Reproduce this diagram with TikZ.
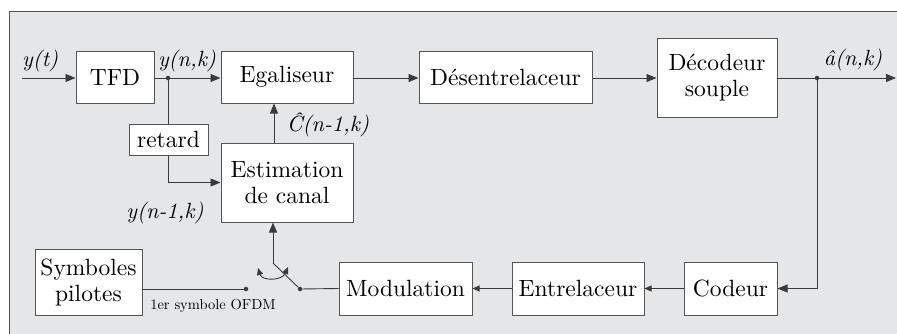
\documentclass[tikz,border=0pt]{standalone}
\usepackage{fontspec}
\setmainfont{lmroman10-regular.otf}[ItalicFont=lmroman10-italic.otf, BoldFont=lmroman10-bold.otf]
\usetikzlibrary{arrows.meta}
\definecolor{bggray}{HTML}{E5E6E8}
\definecolor{linegray}{HTML}{3A3A3A}
\definecolor{edgegray}{HTML}{555555}
\tikzset{
  blockbox/.style={draw=edgegray, line width=1pt, fill=white, inner sep=0pt,
    align=center, font=\fontsize{23.5}{26}\selectfont},
  wire/.style={draw=linegray, line width=0.9pt},
  arr/.style={wire, -{Triangle[length=10pt,width=8pt]}},
  sarr/.style={wire, -{Triangle[length=7pt,width=6pt]}},
  sig/.style={font=\fontsize{22}{24}\selectfont\itshape, inner sep=0pt},
  dotmark/.style={circle, fill=linegray, inner sep=0pt, minimum size=4.5pt},
}
\begin{document}
\begin{tikzpicture}[x=1pt,y=-1pt]
\useasboundingbox (0,0) rectangle (897,333);
\clip (0,0) rectangle (897,333);
% frame of the receiver
\draw[fill=bggray, draw=edgegray, line width=1pt] (9,11) rectangle (905,345);

% blocks
\node[blockbox, minimum width=78pt,  minimum height=52pt] (tfd)  at (115,77)    {TFD};
\node[blockbox, minimum width=132pt, minimum height=52pt] (ega)  at (287,77)    {Egaliseur};
\node[blockbox, minimum width=173pt, minimum height=52pt] (des)  at (505.5,77)  {Désentrelaceur};
\node[blockbox, minimum width=120pt, minimum height=79pt] (dec)  at (717,77.5)  {Décodeur\\souple};
\node[blockbox, minimum width=79pt,  minimum height=31pt] (ret)  at (168.5,139.5) {retard};
\node[blockbox, minimum width=132pt, minimum height=79pt] (est)  at (287,182.5) {Estimation\\de canal};
\node[blockbox, minimum width=107pt, minimum height=66pt] (sym)  at (88.5,282)  {Symboles\\pilotes};
\node[blockbox, minimum width=133pt, minimum height=53pt] (mod)  at (405.5,288.5) {Modulation};
\node[blockbox, minimum width=132pt, minimum height=53pt] (ent)  at (578,288.5) {Entrelaceur};
\node[blockbox, minimum width=93pt,  minimum height=53pt] (cod)  at (730.5,288.5) {Codeur};

% junctions and switch contacts
\coordinate (in)  at (22,78);
\coordinate (out) at (896,78);
\node[dotmark] (j1) at (168,78) {};
\node[dotmark] (j2) at (817,78) {};
\node[dotmark] (sw0) at (246,289) {};
\node[dotmark] (sw1) at (300,289) {};
\coordinate (piv) at (273,263);
\coordinate (cx)  at (274,0);

% forward path
\draw[arr] (in) -- (tfd.west |- in);
\draw[arr] (tfd.east |- j1) -- (ega.west |- j1);
\draw[arr] (ega.east |- j1) -- (des.west |- j1);
\draw[arr] (des.east |- j1) -- (dec.west |- j1);
\draw[arr] (dec.east |- j2) -- (out);

% delayed branch
\draw[wire] (j1) -- (ret.north -| j1);
\draw[arr] (ret.south -| j1) |- (est.west);

% channel estimate to equaliser
\draw[arr] (est.north -| cx) -- (ega.south -| cx);

% feedback path
\draw[arr] (j2) |- (cod.east);
\draw[sarr] (cod.west) -- (ent.east);
\draw[sarr] (ent.west) -- (mod.east);
\draw[wire] (mod.west) -- (sw1);
\draw[wire] (sw1) -- (piv);
\draw[arr] (piv) -- (est.south -| piv);
\draw[wire] (sym.east |- sw0) -- (sw0);
\draw[wire, {Triangle[length=7pt,width=6pt]}-{Triangle[length=7pt,width=6pt]}]
  (258,268) .. controls (262,281) and (282,281) .. (288,267);

% signal labels
\node[sig, anchor=west] (lyt)  at (22,61)   {y(t)};
\node[sig] (lynk)  at (187,61)  {y(n,k)};
\node[sig] (lch)   at (328,125) {Ĉ(n-1,k)};
\node[sig] (lyn1)  at (165,213) {y(n-1,k)};
\node[sig] (lahat) at (853,60)  {â(n,k)};
\node[font=\fontsize{14.5}{16}\selectfont, inner sep=0pt] (lofdm) at (213,306) {1er symbole OFDM};
\end{tikzpicture}
\end{document}
